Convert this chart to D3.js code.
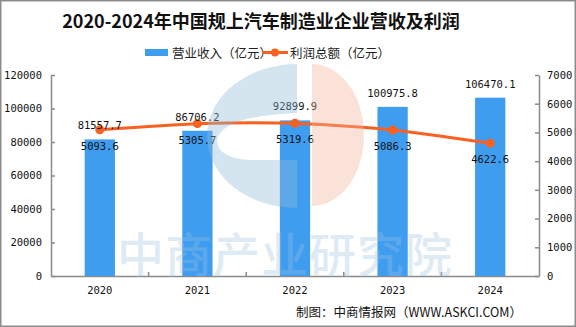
<!DOCTYPE html>
<html><head><meta charset="utf-8">
<script src="https://cdn.jsdelivr.net/npm/d3@7"></script>
<style>body{margin:0;background:#fff}svg{display:block}</style>
</head><body>
<script>
const years = ["2020","2021","2022","2023","2024"];
const revenue = [81557.7, 86706.2, 92899.9, 100975.8, 106470.1];
const profit = [5093.6, 5305.7, 5319.6, 5086.3, 4622.6];
const leftTicks = [0,20000,40000,60000,80000,100000,120000];
const rightTicks = [0,1000,2000,3000,4000,5000,6000,7000];
const title = "2020-2024年中国规上汽车制造业企业营收及利润";
const legendNames = ["营业收入（亿元）","利润总额（亿元）"];
const source = "制图：中商情报网（WWW.ASKCI.COM）";

const W=576,H=327;
const m={l:51,r:37,t:75,b:51};
const svg=d3.select("body").append("svg").attr("width",W).attr("height",H);
svg.append("rect").attr("x",0.75).attr("y",0.75).attr("width",W-1.5).attr("height",H-1.5)
  .attr("fill","#fff").attr("stroke","#8c8c8c").attr("stroke-width",1.5);

const x=d3.scaleBand().domain(years).range([m.l,W-m.r]).paddingInner(0.69).paddingOuter(0.345);
const yL=d3.scaleLinear().domain([0,120000]).range([H-m.b,m.t]);
const yR=d3.scaleLinear().domain([0,7000]).range([H-m.b,m.t]);
const mono="'DejaVu Sans Mono','Liberation Mono',monospace";
const cjk="'Noto Sans CJK SC','Noto Sans',sans-serif";
const blue="#3f9df0", orange="#f8611f";

// title
svg.append("text").attr("x",261).attr("y",28).attr("text-anchor","middle")
  .attr("font-family","'Noto Sans CJK SC',serif").attr("font-weight","bold").attr("font-size",18)
  .attr("fill","#111").text(title);

// legend
const lg=svg.append("g");
lg.append("rect").attr("x",145).attr("y",49).attr("width",23).attr("height",7).attr("fill",blue);
lg.append("text").attr("x",172).attr("y",57.5).attr("font-family",cjk).attr("font-size",12.5).attr("fill","#222").text(legendNames[0]);
lg.append("line").attr("x1",262).attr("x2",288).attr("y1",52.5).attr("y2",52.5).attr("stroke",orange).attr("stroke-width",3);
lg.append("circle").attr("cx",275).attr("cy",52.5).attr("r",4).attr("fill",orange);
lg.append("text").attr("x",290).attr("y",57.5).attr("font-family",cjk).attr("font-size",12.5).attr("fill","#222").text(legendNames[1]);

// axes
const axL=svg.append("g").attr("transform",`translate(${m.l},0)`)
  .call(d3.axisLeft(yL).tickValues(leftTicks).tickSizeInner(-4).tickSizeOuter(0).tickPadding(9).tickFormat(d3.format("d")));
const axR=svg.append("g").attr("transform",`translate(${W-m.r},0)`)
  .call(d3.axisRight(yR).tickValues(rightTicks).tickSizeInner(-4).tickSizeOuter(0).tickPadding(8).tickFormat(d3.format("d")));
const axB=svg.append("g").attr("transform",`translate(0,${H-m.b})`)
  .call(d3.axisBottom(x).tickSize(0).tickPadding(11));
const gap=(x.step()-x.bandwidth())/2;
axB.selectAll("line.sep").data(years.slice(1)).join("line").attr("class","sep")
  .attr("x1",d=>x(d)-gap).attr("x2",d=>x(d)-gap).attr("y1",0).attr("y2",-4);
[axL,axR,axB].forEach(a=>{
  a.selectAll("path,line").attr("stroke","#8a8a8a").attr("stroke-width",1.5);
  a.selectAll("text").attr("font-family",mono).attr("font-size",10.5).attr("fill","#111");
});

// bars
svg.append("g").selectAll("rect").data(years).join("rect")
  .attr("x",d=>x(d)).attr("width",x.bandwidth())
  .attr("y",(d,i)=>yL(revenue[i])).attr("height",(d,i)=>yL(0)-yL(revenue[i]))
  .attr("fill",blue);

// line
const cx=d=>x(d)+x.bandwidth()/2;
const line=d3.line().x((d,i)=>cx(years[i])).y(d=>yR(d)).curve(d3.curveCardinal.tension(0.3));
svg.append("path").datum(profit).attr("d",line).attr("fill","none").attr("stroke",orange).attr("stroke-width",3);
svg.append("g").selectAll("circle").data(profit).join("circle")
  .attr("cx",(d,i)=>cx(years[i])).attr("cy",d=>yR(d)).attr("r",4.5).attr("fill",orange);

// labels
svg.append("g").selectAll("text").data(revenue).join("text")
  .attr("x",(d,i)=>cx(years[i])).attr("y",d=>yL(d)-10).attr("text-anchor","middle")
  .attr("font-family",mono).attr("font-size",10.5).attr("fill","#111").text(d=>d3.format(".1f")(d));
svg.append("g").selectAll("text").data(profit).join("text")
  .attr("x",(d,i)=>cx(years[i])).attr("y",d=>yR(d)+20).attr("text-anchor","middle")
  .attr("font-family",mono).attr("font-size",10.5).attr("fill","#111").text(d=>d3.format(".1f")(d));

// watermark
const wm=svg.append("g").attr("pointer-events","none");
wm.append("path").attr("d","M297,64 A90,72 0 0 0 297,208 L297,160 L250,160 Q217,158 217,140 Q222,116 297,113 Z")
  .attr("fill","#8dbad6").attr("opacity",0.38);
wm.append("path").attr("d","M312,64 A52,71 0 0 1 312,206 Z").attr("fill","#f3b49a").attr("opacity",0.38);
wm.append("text").attr("x",285).attr("y",272).attr("text-anchor","middle")
  .attr("font-family",cjk).attr("font-weight","500").attr("font-size",47).attr("letter-spacing",1)
  .attr("fill","#9cc2e0").attr("opacity",0.32).text("中商产业研究院");

// source
svg.append("text").attr("x",522).attr("y",317).attr("text-anchor","end")
  .attr("font-family",cjk).attr("font-size",12.5).attr("fill","#111").text(source);
</script>
</body></html>
